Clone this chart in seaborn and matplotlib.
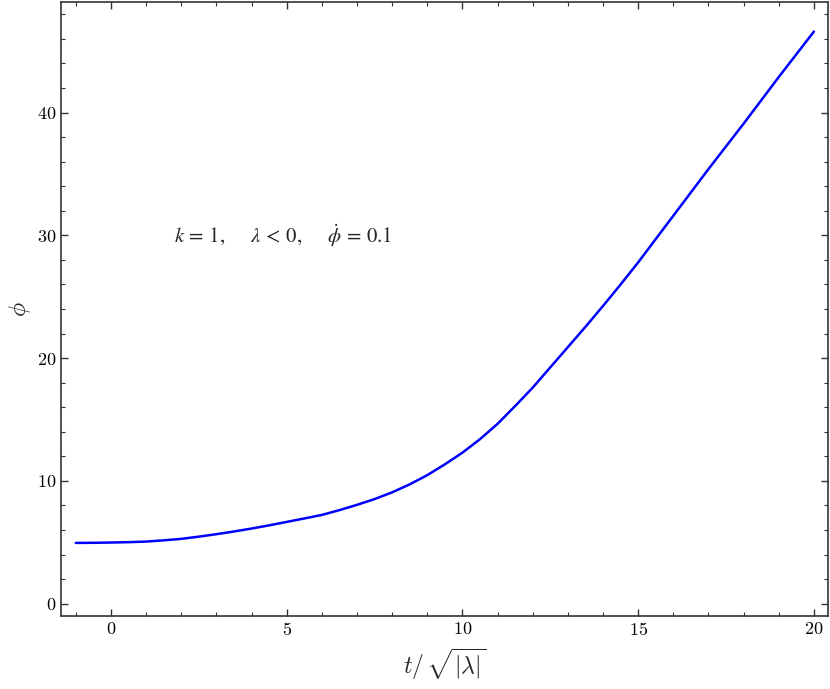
import numpy as np
import pandas as pd
import matplotlib.pyplot as plt
import seaborn as sns
from matplotlib.ticker import MultipleLocator

# values
t_vals = [-1, -0.5, 0, 0.5, 1, 1.5, 2, 2.5, 3, 3.5, 4, 4.5, 5, 5.5, 6, 6.5, 7, 7.5,
          8, 8.5, 9, 9.5, 10, 10.5, 11, 11.5, 12, 12.5, 13, 13.5, 14, 14.5, 15,
          16, 17, 18, 19, 20]
phi_vals = [4.95, 4.96, 4.98, 5.01, 5.06, 5.16, 5.28, 5.46, 5.66, 5.88, 6.12, 6.38,
            6.66, 6.94, 7.23, 7.62, 8.05, 8.52, 9.07, 9.72, 10.47, 11.35, 12.3, 13.4,
            14.65, 16.1, 17.6, 19.25, 20.9, 22.55, 24.25, 26.0, 27.8,
            31.6, 35.4, 39.1, 42.9, 46.6]

sns.set_theme(style="ticks")
plt.rcParams['font.family'] = ['cmr10', 'DejaVu Serif']
plt.rcParams['mathtext.fontset'] = 'cm'
plt.rcParams['axes.formatter.use_mathtext'] = True
plt.rcParams['axes.unicode_minus'] = False

df = pd.DataFrame({"t": t_vals, "phi": phi_vals})

fig = plt.figure(figsize=(8.3, 6.89), dpi=100)
ax = fig.add_axes([0.0735, 0.106, 0.9241, 0.891])

sns.lineplot(data=df, x="t", y="phi", ax=ax, color="#0000ff", linewidth=1.8)

ax.set_xlim(-1.42, 20.4)
ax.set_ylim(-1, 49)
ax.xaxis.set_major_locator(MultipleLocator(5))
ax.xaxis.set_minor_locator(MultipleLocator(1))
ax.yaxis.set_major_locator(MultipleLocator(10))
ax.yaxis.set_minor_locator(MultipleLocator(2))

ax.tick_params(which="both", direction="in", top=True, right=True,
               colors="#333333", labelcolor="black", labelsize=13)
ax.tick_params(which="major", length=5, width=1)
ax.tick_params(which="minor", length=3, width=0.8)
for sp in ax.spines.values():
    sp.set_color("#333333")
    sp.set_linewidth(1.2)

ax.set_xlabel(r"$t/\,\sqrt{|\lambda|}$", fontsize=17, labelpad=6)
ax.set_ylabel(r"$\phi$", fontsize=17, labelpad=3)

ax.text(1.8, 30, r"$k\,=\,1,\quad\;\;\lambda\,<\,0,\quad\;\;\dot{\phi}\,=\,0.1$",
        fontsize=15, va="center", ha="left",
        math_fontfamily="stix")

fig.savefig("out.png", dpi=100)
